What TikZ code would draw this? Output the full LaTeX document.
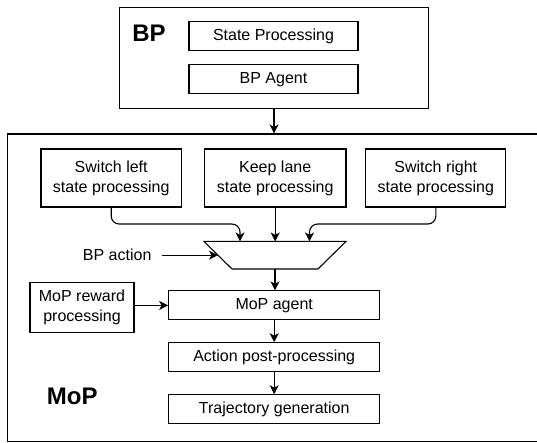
\documentclass[tikz,border=0pt]{standalone}
\usepackage{fontspec}
\setmainfont{Liberation Sans}
\usetikzlibrary{arrows.meta}
\tikzset{
  blk/.style={draw, line width=1.1pt, inner sep=0pt, align=center, font=\fontsize{16}{20}\selectfont},
  frame/.style={draw, line width=1.2pt, inner sep=0pt},
  title/.style={inner sep=0pt, font=\fontsize{24}{28}\selectfont\bfseries},
  arr/.style={line width=1.1pt, -{Stealth[length=9pt,width=9pt,inset=2.5pt]}},
}
\begin{document}
\begin{tikzpicture}[x=1pt,y=-1pt]
    \useasboundingbox (0,0) rectangle (537,443);
    \clip (0,0) rectangle (537,443);
    \node[frame, minimum width=309pt, minimum height=101pt] (bp) at (274,58.2) {};
    \node[title] (bplabel) at (149,33) {BP};
    \node[blk, minimum width=169pt, minimum height=29pt] (stateproc) at (273.5,36.2) {State Processing};
    \node[blk, minimum width=169pt, minimum height=29pt] (bpagent) at (273.5,79.4) {BP Agent};
    \node[frame, minimum width=538pt, minimum height=307.5pt] (mop) at (276.5,287.8) {};
    \node[title] (moplabel) at (72.3,396) {MoP};
    \draw[arr] (bp) -- (bp |- mop.north);
    \node[blk, minimum width=140.5pt, minimum height=58pt] (left) at (111.2,178) {Switch left\\state processing};
    \node[blk, minimum width=141.5pt, minimum height=58pt] (keep) at (275.2,178) {Keep lane\\state processing};
    \node[blk, minimum width=140pt, minimum height=58pt] (right) at (435.8,178) {Switch right\\state processing};
    % selector
    \coordinate (mux) at (275,255.2);
    \draw[line width=1.1pt] ([shift={(-71,-13.75)}]mux) -- ([shift={(71,-13.75)}]mux)
        -- ([shift={(43,13.75)}]mux) -- ([shift={(-43,13.75)}]mux) -- cycle;
    \coordinate (inL) at ([shift={(-35,-13.75)}]mux);
    \coordinate (inR) at ([shift={(34.5,-13.75)}]mux);
    \coordinate (inS) at ([shift={(-57,0)}]mux);
    \coordinate (outM) at ([shift={(0,13.75)}]mux);
    \draw[arr, rounded corners=8pt] (left.south) -- ++(0,16.5) -| (inL);
    \draw[arr] (keep) -- (keep |- inL);
    \draw[arr, rounded corners=8pt] (right.south) -- ++(0,16.5) -| (inR);
    \node[blk, draw=none, inner xsep=10pt] (bpact) at (117.2,255.2) {BP action};
    \draw[arr] (bpact) -- (inS);
    \node[blk, minimum width=211pt, minimum height=29pt] (agent) at (274.2,305.4) {MoP agent};
    \node[blk, minimum width=104pt, minimum height=50.5pt] (reward) at (82,307.5) {MoP reward\\processing};
    \draw[arr] (outM) -- (outM |- agent.north);
    \draw[arr] (reward.east |- agent.west) -- (agent.west);
    \node[blk, minimum width=211pt, minimum height=29pt] (post) at (274.2,357.2) {Action post-processing};
    \node[blk, minimum width=211pt, minimum height=29pt] (traj) at (274.2,409.3) {Trajectory generation};
    \draw[arr] (agent) -- (post);
    \draw[arr] (post) -- (traj);
\end{tikzpicture}
\end{document}
